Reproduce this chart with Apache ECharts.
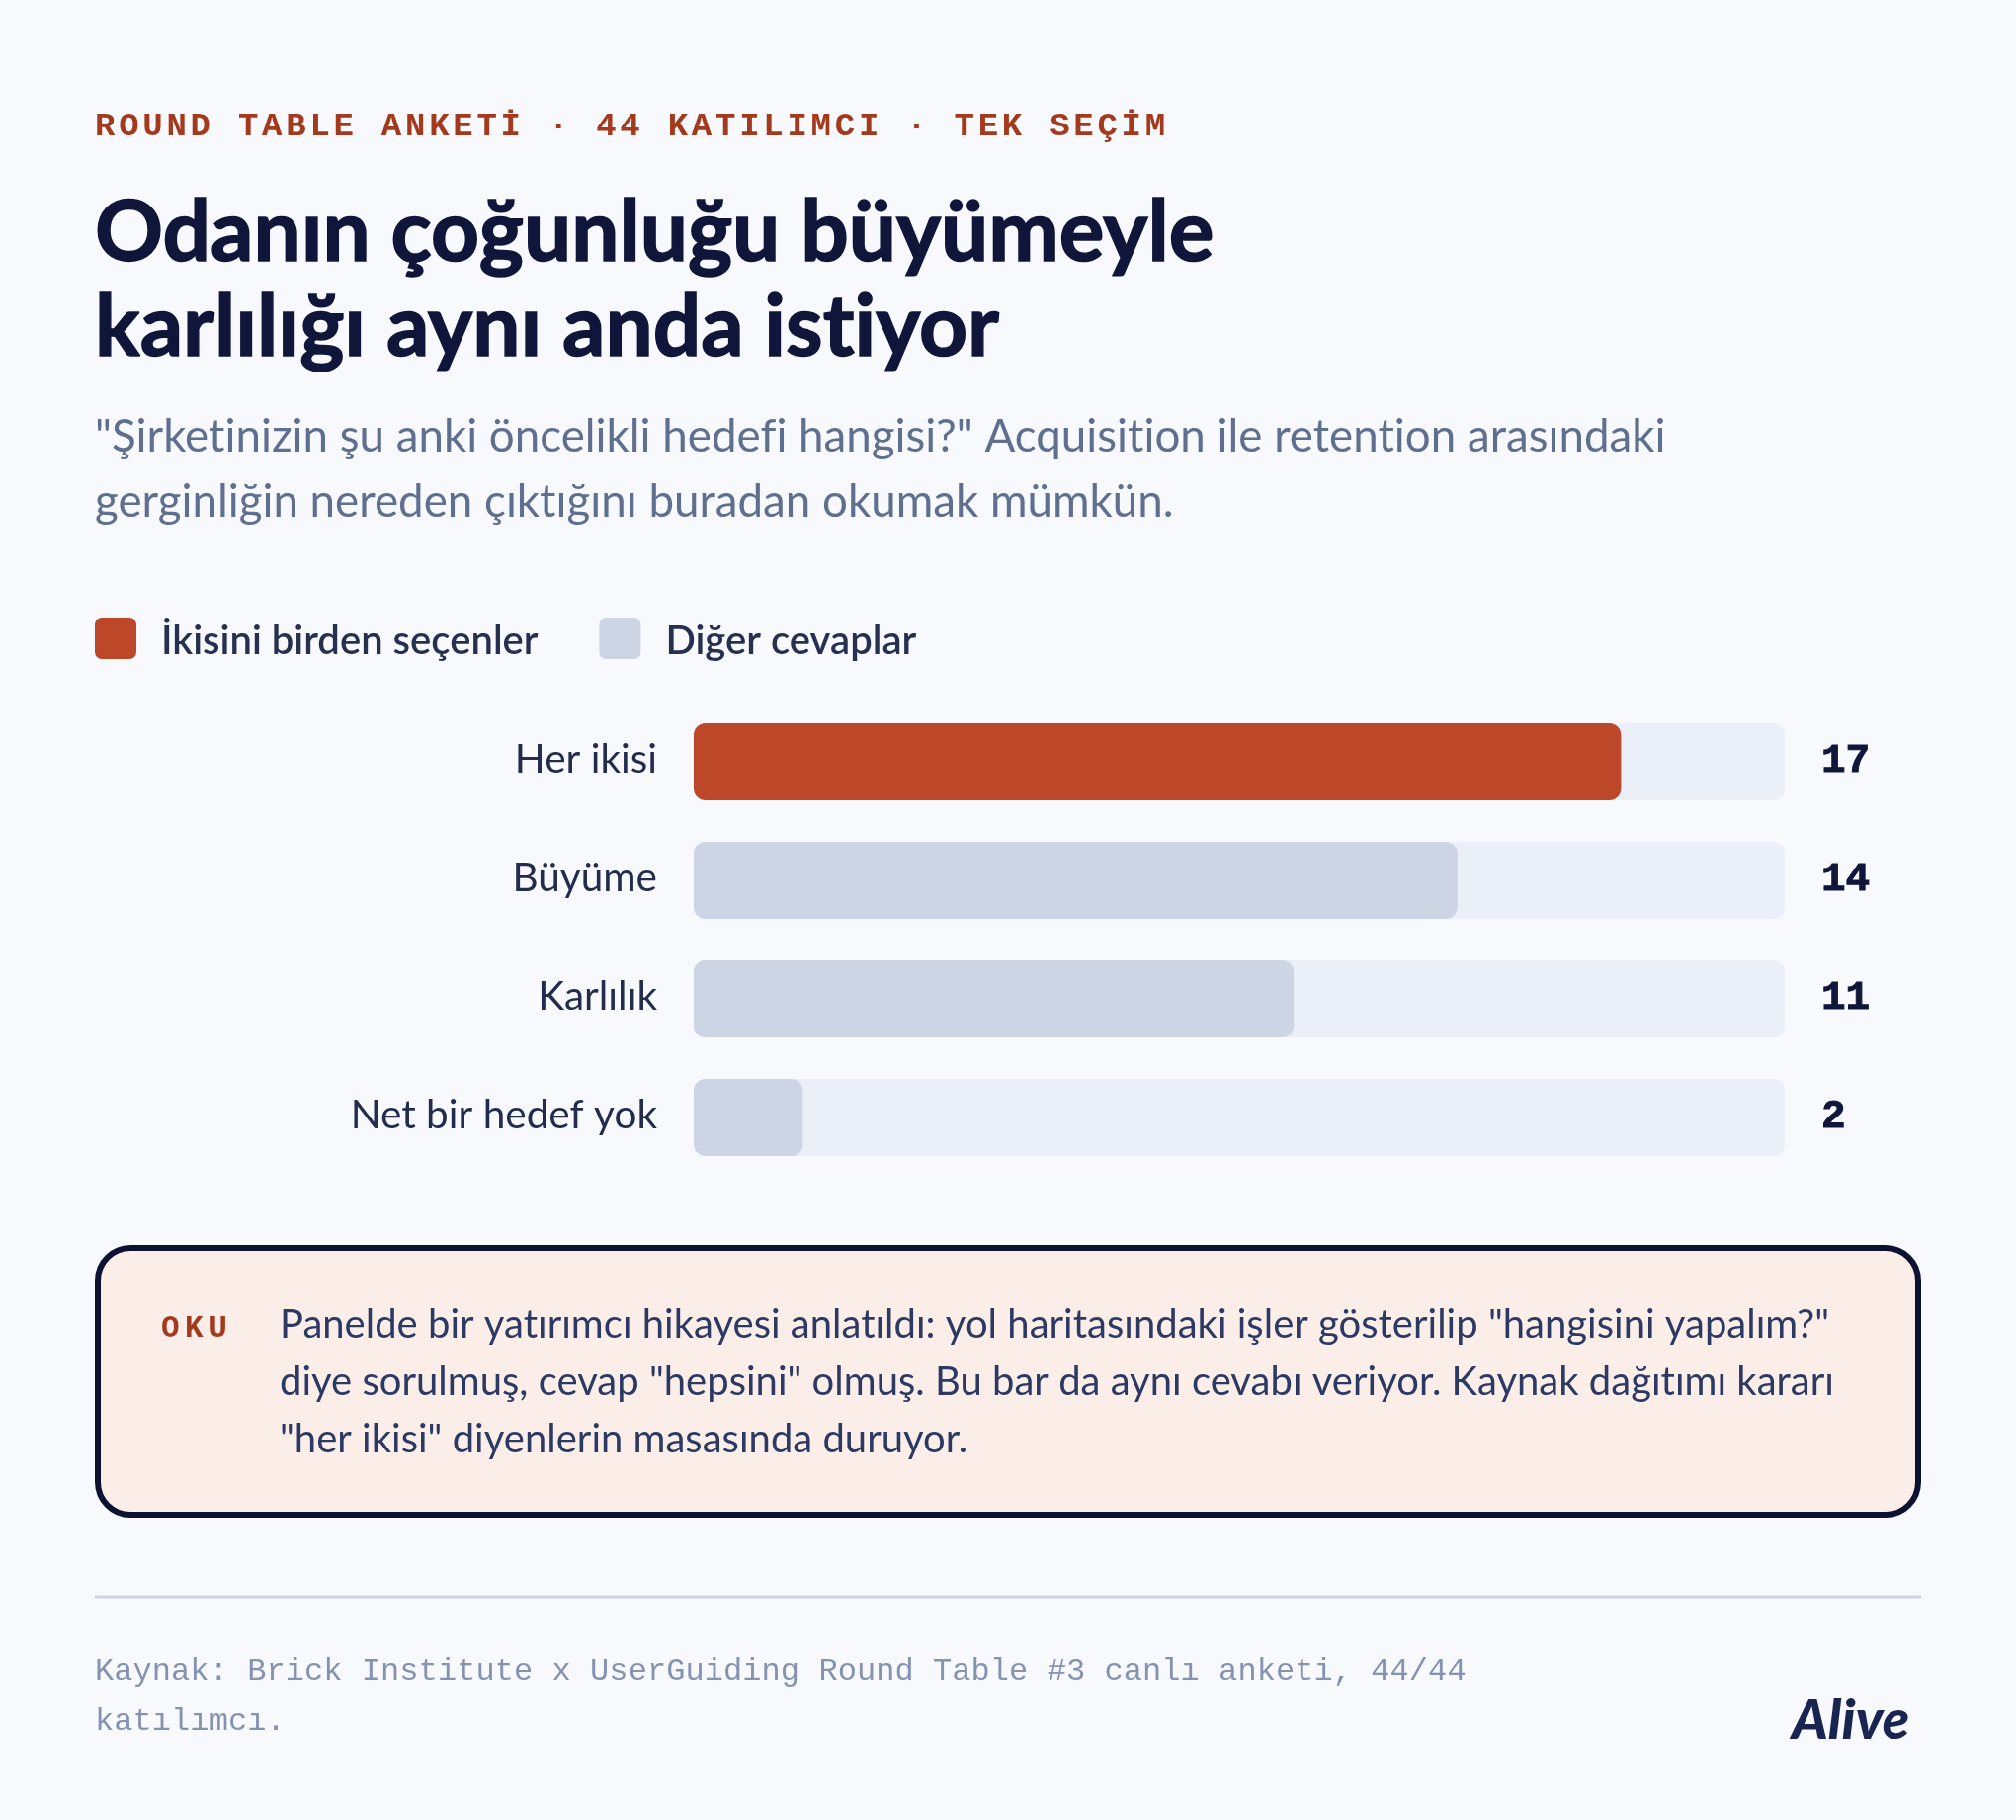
<!DOCTYPE html>
<html><head><meta charset="utf-8">
<style>html,body{margin:0;padding:0;background:#f7f9fd}#c{width:2040px;height:1842px}</style>
<script src="https://cdn.jsdelivr.net/npm/echarts@6/dist/echarts.min.js"></script>
</head><body><div id="c"></div>
<script>
const categories = ['Her ikisi', 'Büyüme', 'Karlılık', 'Net bir hedef yok'];
const bothValues = [17, null, null, null];
const otherValues = [null, 14, 11, 2];
const valueLabels = ['17', '14', '11', '2'];
const axisMax = 20;
const legendBoth = 'İkisini birden seçenler';
const legendOther = 'Diğer cevaplar';
const eyebrow = 'ROUND TABLE ANKETİ · 44 KATILIMCI · TEK SEÇİM';
const headline = 'Odanın çoğunluğu büyümeyle\nkarlılığı aynı anda istiyor';
const subtitle = '"Şirketinizin şu anki öncelikli hedefi hangisi?" Acquisition ile retention arasındaki\ngerginliğin nereden çıktığını buradan okumak mümkün.';
const calloutTag = 'OKU';
const calloutBody = 'Panelde bir yatırımcı hikayesi anlatıldı: yol haritasındaki işler gösterilip "hangisini yapalım?"\ndiye sorulmuş, cevap "hepsini" olmuş. Bu bar da aynı cevabı veriyor. Kaynak dağıtımı kararı\n"her ikisi" diyenlerin masasında duruyor.';
const source = 'Kaynak: Brick Institute x UserGuiding Round Table #3 canlı anketi, 44/44\nkatılımcı.';
const brand = 'Alive';

const tracking = [['34px "Liberation Mono"', '3.75px'], ['31px "Liberation Mono"', '5.5px'], ['32px "Liberation Mono"', '0.07px'], ['Lato', '0.01px']];
['fillText', 'strokeText'].forEach(method => {
  const orig = CanvasRenderingContext2D.prototype[method];
  CanvasRenderingContext2D.prototype[method] = function (t, x, y, m) {
    const hit = tracking.find(r => this.font.includes(r[0]));
    this.letterSpacing = hit ? hit[1] : '0px';
    return m === undefined ? orig.call(this, t, x, y) : orig.call(this, t, x, y, m);
  };
});

const BODY = 'Lato';
const MONO = '"Liberation Mono"';
function label(x, y, text, font, size, weight, color, lineHeight, align) {
  return { type: 'text', x, y, silent: true, style: { text, fontFamily: font, fontSize: size, fontWeight: weight, fill: color, lineHeight: lineHeight || size * 1.2, align: align || 'left', verticalAlign: 'top' } };
}
const swatch = 'path://M7 0H35A7 7 0 0 1 42 7V35A7 7 0 0 1 35 42H7A7 7 0 0 1 0 35V7A7 7 0 0 1 7 0Z';
const headlineLabel = label(96, 188, headline, BODY, 85.5, 700, '#10163a', 96);
headlineLabel.style.stroke = '#10163a';
headlineLabel.style.lineWidth = 1.5;
const chart = echarts.init(document.getElementById('c'), null, { renderer: 'canvas' });
chart.setOption({
  animation: false,
  backgroundColor: '#f7f9fd',
  legend: {
    left: 96, top: 625, padding: 0, itemWidth: 42, itemHeight: 42, itemGap: 62, icon: swatch,
    data: [legendBoth, legendOther], selectedMode: false,
    formatter: name => `{t|${name}}`,
    textStyle: { rich: { t: { fontFamily: BODY, fontSize: 40, fontWeight: 600, color: '#27304f', padding: [6, 0, 0, 20] } } }
  },
  grid: { left: 702, top: 711, width: 1104, height: 480 },
  xAxis: { type: 'value', min: 0, max: axisMax, show: false },
  yAxis: [
    { type: 'category', data: categories, inverse: true, axisLine: { show: false }, axisTick: { show: false },
      axisLabel: { margin: 37, align: 'right', formatter: name => `{t|${name}}`,
        rich: { t: { fontFamily: BODY, fontSize: 40.5, color: '#242c4d', padding: [0, 0, 5, 0] } } } },
    { type: 'category', position: 'right', data: valueLabels, inverse: true, axisLine: { show: false }, axisTick: { show: false },
      axisLabel: { margin: 37, fontFamily: MONO, fontSize: 41, fontWeight: 700, color: '#10163a', align: 'left', textBorderColor: '#10163a', textBorderWidth: 1 } }
  ],
  series: [
    { name: legendBoth, type: 'bar', data: bothValues, barWidth: 78, barGap: '-100%', color: '#bc4829',
      itemStyle: { borderRadius: 12 }, showBackground: true, backgroundStyle: { color: '#ebf0f8', borderRadius: 12 } },
    { name: legendOther, type: 'bar', data: otherValues, barWidth: 78, color: '#cdd4e3',
      itemStyle: { borderRadius: 12 }, showBackground: true, backgroundStyle: { color: '#ebf0f8', borderRadius: 12 } }
  ],
  graphic: [
    label(96, 108, eyebrow, MONO, 34, 700, '#a33a1e'),
    headlineLabel,
    label(96, 409, subtitle, BODY, 45.7, 400, '#5f6f8f', 66),
    { type: 'rect', silent: true, shape: { x: 99, y: 1263, width: 1842, height: 270, r: 33 }, style: { fill: '#fbeee9', stroke: '#0d1233', lineWidth: 6 } },
    label(163, 1327, calloutTag, MONO, 31, 700, '#a33a1e'),
    label(283, 1312, calloutBody, BODY, 40, 400, '#2c3a63', 58),
    { type: 'line', silent: true, shape: { x1: 96, y1: 1616, x2: 1944, y2: 1616 }, style: { stroke: '#cdd4e3', lineWidth: 3 } },
    label(96, 1666, source, MONO, 32, 400, '#8592b0', 51),
    label(1813, 1708, brand, BODY, 56, 'italic 900', '#1a2450')
  ]
});
</script></body></html>
